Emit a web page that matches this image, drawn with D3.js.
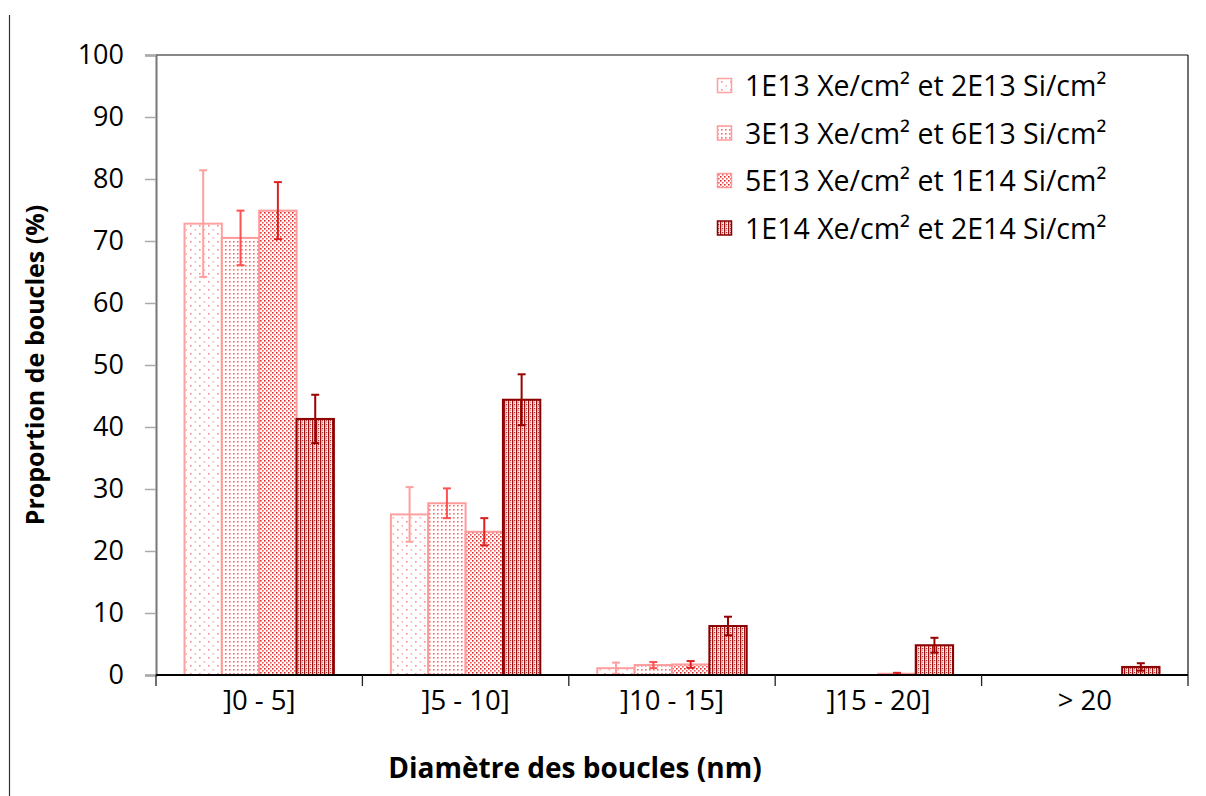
<!DOCTYPE html>
<html><head><meta charset="utf-8">
<script src="https://cdn.jsdelivr.net/npm/d3@7"></script>
<style>
html,body{margin:0;padding:0;background:#fff;}
text{font-family:"Open Sans","Noto Sans",sans-serif;fill:#000;}
</style></head>
<body><svg id="chart" width="1206" height="796"></svg>
<script>
const categories = ["]0 - 5]", "]5 - 10]", "]10 - 15]", "]15 - 20]", "> 20"];
const seriesNames = ["1E13 Xe/cm² et 2E13 Si/cm²", "3E13 Xe/cm² et 6E13 Si/cm²", "5E13 Xe/cm² et 1E14 Si/cm²", "1E14 Xe/cm² et 2E14 Si/cm²"];
const s1 = [72.8, 25.9, 1.1, 0, 0];
const s2 = [70.5, 27.7, 1.6, 0, 0];
const s3 = [74.9, 23.1, 1.7, 0.2, 0];
const s4 = [41.3, 44.4, 7.9, 4.8, 1.3];
const e1 = [8.6, 4.4, 0.9, 0, 0];
const e2 = [4.4, 2.4, 0.5, 0, 0];
const e3 = [4.6, 2.2, 0.55, 0.15, 0];
const e4 = [3.9, 4.1, 1.5, 1.2, 0.6];
const yTicks = [0, 10, 20, 30, 40, 50, 60, 70, 80, 90, 100];
const xTitle = "Diamètre des boucles (nm)";
const yTitle = "Proportion de boucles (%)";

const values = [s1, s2, s3, s4];
const errors = [e1, e2, e3, e4];
const strokeCols = ["#ffa0a0", "#ff9a9a", "#ff9a9a", "#8b0000"];
const errCols = ["#ffa0a0", "#ff5050", "#dd2020", "#990000"];

const svg = d3.select("#chart");
const L = 156, R = 1188, T = 55, B = 675;

// patterns
const defs = svg.append("defs");
function pat(id, w, h, draw) {
  const p = defs.append("pattern").attr("id", id).attr("patternUnits", "userSpaceOnUse")
    .attr("width", w).attr("height", h);
  p.append("rect").attr("width", w).attr("height", h).attr("fill", "#fff");
  draw(p);
}
pat("p0", 9, 8, p => {
  p.append("rect").attr("x", 1).attr("y", 1).attr("width", 1.6).attr("height", 1.6).attr("fill", "#ff8c8c");
  p.append("rect").attr("x", 5.5).attr("y", 5).attr("width", 1.6).attr("height", 1.6).attr("fill", "#ffb0b0");
});
pat("p1", 4, 4, p => {
  p.append("rect").attr("x", 1).attr("y", 1).attr("width", 1.6).attr("height", 1.6).attr("fill", "#ff6a6a");
});
pat("p2", 4, 4, p => {
  p.append("rect").attr("x", 0).attr("y", 0).attr("width", 1.6).attr("height", 1.6).attr("fill", "#d82828");
  p.append("rect").attr("x", 2).attr("y", 2).attr("width", 1.6).attr("height", 1.6).attr("fill", "#ee5555");
});
pat("p3", 4, 4, p => {
  p.append("rect").attr("x", 0).attr("y", 0).attr("width", 1.3).attr("height", 4).attr("fill", "#a01010");
  p.append("rect").attr("x", 2).attr("y", 0).attr("width", 1.3).attr("height", 1.3).attr("fill", "#b03030");
  p.append("rect").attr("x", 2).attr("y", 2).attr("width", 1.3).attr("height", 1.3).attr("fill", "#d89090");
  p.append("rect").attr("x", 1.3).attr("y", 1.5).attr("width", 0.7).attr("height", 1).attr("fill", "#e0a0a0");
});

const x0 = d3.scaleBand().domain(categories).range([L, R]).paddingInner(0).paddingOuter(0);
const bw = x0.bandwidth();
const x1 = d3.scaleBand().domain(d3.range(4)).range([28.5, bw - 28.5]).padding(0);
const y = d3.scaleLinear().domain([0, 100]).range([B, T]);

// outer left line
svg.append("line").attr("x1", 9.5).attr("x2", 9.5).attr("y1", 15).attr("y2", 796)
  .attr("stroke", "#333").attr("stroke-width", 1.2);

// frame top/right
svg.append("line").attr("x1", L).attr("x2", R).attr("y1", T).attr("y2", T).attr("stroke", "#111").attr("stroke-width", 1.2);
svg.append("line").attr("x1", R).attr("x2", R).attr("y1", T).attr("y2", B).attr("stroke", "#111").attr("stroke-width", 1.2);

// y axis
const yAxis = d3.axisLeft(y).tickValues(yTicks).tickSize(11).tickPadding(21).tickFormat(d3.format("d"));
const gy = svg.append("g").attr("transform", `translate(${L},0)`).call(yAxis);
gy.select(".domain").attr("stroke", "#777").attr("stroke-width", 2);
gy.selectAll(".tick line").attr("stroke", "#aaa").attr("stroke-width", 1.5);
gy.selectAll(".tick text").style("font-size", "27px").attr("fill", "#000");

// bars
const g = svg.append("g");
values.forEach((vals, si) => {
  const gs = g.append("g");
  gs.selectAll("rect").data(categories).join("rect")
    .attr("x", c => x0(c) + x1(si))
    .attr("y", (c, i) => y(vals[i]))
    .attr("width", x1.bandwidth())
    .attr("height", (c, i) => B - y(vals[i]))
    .attr("fill", `url(#p${si})`)
    .attr("stroke", strokeCols[si])
    .attr("stroke-width", 2);
});

// x axis
svg.append("line").attr("x1", L).attr("x2", R).attr("y1", B).attr("y2", B).attr("stroke", "#000").attr("stroke-width", 2);
const boundaries = categories.map(c => x0(c)).concat([R]);
svg.selectAll(".xt").data(boundaries).join("line").attr("class", "xt")
  .attr("x1", d => d).attr("x2", d => d).attr("y1", B).attr("y2", B + 11)
  .attr("stroke", "#222").attr("stroke-width", 1.3);
svg.selectAll(".xl").data(categories).join("text").attr("class", "xl")
  .attr("x", c => x0(c) + bw / 2).attr("y", 710)
  .attr("text-anchor", "middle").style("font-size", "27.5px").text(c => c);

// error bars
values.forEach((vals, si) => {
  const ge = g.append("g").attr("stroke", errCols[si]).attr("stroke-width", 2);
  categories.forEach((c, i) => {
    const e = errors[si][i];
    if (!e) return;
    const cx = x0(c) + x1(si) + x1.bandwidth() / 2;
    const v = vals[i];
    const top = y(v + e), bot = y(Math.max(0, v - e));
    ge.append("line").attr("x1", cx).attr("x2", cx).attr("y1", top).attr("y2", bot);
    ge.append("line").attr("x1", cx - 4).attr("x2", cx + 4).attr("y1", top).attr("y2", top);
    ge.append("line").attr("x1", cx - 4).attr("x2", cx + 4).attr("y1", bot).attr("y2", bot);
  });
});

// titles
svg.append("text").attr("x", 575).attr("y", 778).attr("text-anchor", "middle")
  .style("font-size", "28px").style("font-weight", "bold").text(xTitle);
svg.append("text").attr("transform", "translate(44,365) rotate(-90)").attr("text-anchor", "middle")
  .style("font-size", "25px").style("font-weight", "bold").text(yTitle);

// legend
const lg = svg.append("g");
seriesNames.forEach((n, i) => {
  const cy = 86 + i * 47.5;
  lg.append("rect").attr("x", 717.5).attr("y", cy - 7.5).attr("width", 14).attr("height", 14)
    .attr("fill", `url(#p${i})`).attr("stroke", strokeCols[i]).attr("stroke-width", 1.5);
  lg.append("text").attr("x", 745).attr("y", cy).attr("dy", "0.36em").style("font-size", "28.5px").text(n);
});
</script></body></html>
